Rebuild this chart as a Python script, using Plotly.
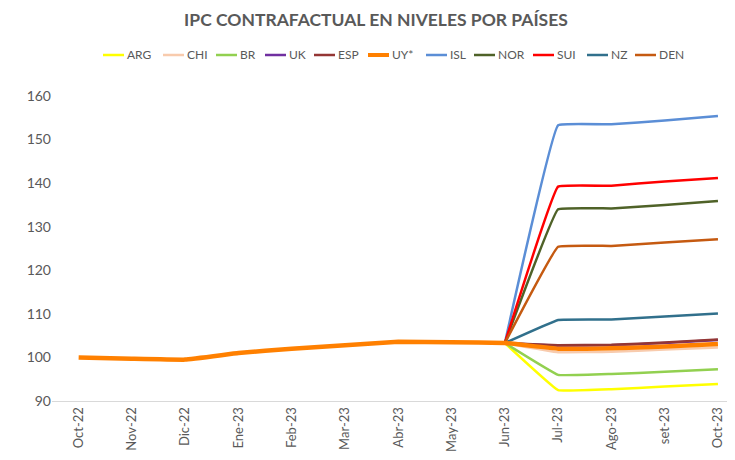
import plotly.graph_objects as go

months = ["Oct-22", "Nov-22", "Dic-22", "Ene-23", "Feb-23", "Mar-23", "Abr-23",
          "May-23", "Jun-23", "Jul-23", "Ago-23", "set-23", "Oct-23"]

# common history (UY*), then counterfactual paths from Jun-23
uy_hist = [100.0, 99.7, 99.5, 101.0, 102.0, 102.8, 103.6, 103.5, 103.3]
jun_val = 103.3

arg = [92.5, 92.7, 93.3, 93.9]
chi = [101.2, 101.3, 101.8, 102.3]
br = [96.0, 96.2, 96.7, 97.3]
uk = [102.7, 102.8, 103.3, 104.0]
esp = [102.8, 102.9, 103.4, 104.1]
uy = [102.0, 102.1, 102.5, 103.1]
isl = [153.3, 153.5, 154.4, 155.4]
nor = [134.0, 134.2, 135.0, 135.9]
sui = [139.2, 139.4, 140.4, 141.2]
nz = [108.6, 108.7, 109.4, 110.1]
den = [125.4, 125.6, 126.4, 127.1]

names = ["ARG", "CHI", "BR", "UK", "ESP", "UY*", "ISL", "NOR", "SUI", "NZ", "DEN"]
series = [arg, chi, br, uk, esp, uy, isl, nor, sui, nz, den]
colors = ["#FFFF00", "#F8CBAD", "#92D050", "#7030A0", "#943634", "#FF8000",
          "#5B8ED6", "#4F6228", "#FF0000", "#31708C", "#C55A11"]

# layout geometry (figure pixels; page body adds an 8px offset)
W, H = 735, 460
ML, MR, MT, MB = 44, 8, 88, 67
PW, PH = W - ML - MR, H - MT - MB
legend_starts = [95, 155, 208, 257, 306, 360, 418, 466, 525, 579, 627]
legend_y = 47
swatch_len = 21


def px_x(px):
    return (px - ML) / PW


def px_y(py):
    return (H - MB - py) / PH


fig = go.Figure()
order = [0, 1, 2, 3, 4, 6, 7, 8, 9, 10, 5]  # UY* drawn last (on top)
for i in order:
    name = names[i]
    if name == "UY*":
        y = uy_hist + series[i]
        width = 4.5
    else:
        y = [None] * 8 + [jun_val] + series[i]
        width = 2.5
    fig.add_trace(go.Scatter(
        x=list(range(len(months))), y=y, name=name, mode="lines",
        line=dict(color=colors[i], width=width, shape="spline", smoothing=0.2),
        connectgaps=False, showlegend=False,
    ))

# legend drawn as swatches + labels (compact, like the original)
for i, name in enumerate(names):
    x0 = legend_starts[i]
    fig.add_shape(type="line", xref="paper", yref="paper",
                  x0=px_x(x0), x1=px_x(x0 + swatch_len),
                  y0=px_y(legend_y), y1=px_y(legend_y),
                  line=dict(color=colors[i], width=4 if name == "UY*" else 2.5))
    fig.add_annotation(xref="paper", yref="paper", x=px_x(x0 + swatch_len + 1),
                       y=px_y(legend_y), text=name, showarrow=False,
                       xanchor="left", yanchor="middle",
                       font=dict(size=12, color="#595959"))

fig.update_layout(
    width=W, height=H,
    margin=dict(l=ML, r=MR, t=MT, b=MB, autoexpand=False),
    paper_bgcolor="white", plot_bgcolor="white",
    font=dict(family="Lato, Carlito, sans-serif", color="#595959", size=13),
    title=dict(text="<b>IPC CONTRAFACTUAL EN NIVELES POR PAÍSES</b>",
               x=368 / W, xanchor="center", y=1 - 12 / H, yanchor="middle",
               font=dict(size=17.5, color="#595959")),
    showlegend=False,
)
fig.update_xaxes(
    tickmode="array", tickvals=list(range(len(months))), ticktext=months,
    tickangle=-90, range=[-0.5, 12.32], showgrid=False, zeroline=False,
    showline=True, linecolor="#D9D9D9", linewidth=1, ticks="",
    tickfont=dict(size=13, color="#595959"),
)
fig.update_yaxes(
    range=[90, 160], tickvals=[90, 100, 110, 120, 130, 140, 150, 160],
    showgrid=False, zeroline=False, showline=False, ticks="",
    tickfont=dict(size=14, color="#595959"),
)

fig.write_html("out.html")
